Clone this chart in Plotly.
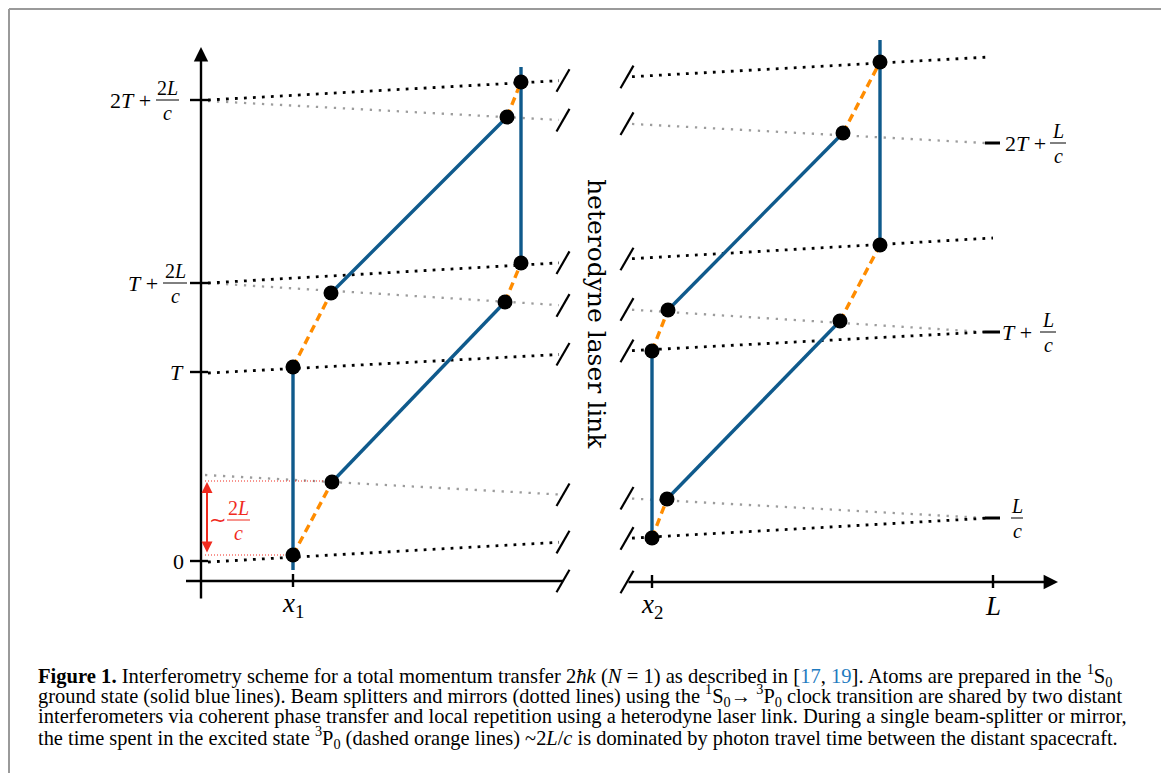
import plotly.graph_objects as go

# ---------------- data (diagram units: x = position, t = time) ----------------
# atom trajectories, left interferometer (at x1)
blue_left_x = [92, 92, None, 131, 304, None, 130, 306, None, 320, 320]
blue_left_t = [-9, 194, None, 79, 259, None, 268, 444, None, 299, 494]
orange_left_x = [92, 131, None, 92, 130, None, 304, 320, None, 306, 320]
orange_left_t = [6, 79, None, 194, 268, None, 259, 298, None, 444, 479]
dots_left_x = [92, 92, 131, 130, 304, 320, 306, 320]
dots_left_t = [6, 194, 79, 268, 259, 298, 444, 479]

# atom trajectories, right interferometer (at x2)
blue_right_x = [451, 451, None, 466, 639, None, 467, 642, None, 679, 679]
blue_right_t = [23, 210, None, 62, 240, None, 251, 428, None, 316, 521]
orange_right_x = [451, 466, None, 451, 467, None, 639, 679, None, 642, 679]
orange_right_t = [23, 62, None, 210, 251, None, 240, 316, None, 428, 499]
dots_right_x = [451, 451, 466, 467, 639, 642, 679, 679]
dots_right_t = [23, 210, 62, 251, 240, 428, 316, 499]

# light pulses (start x, start t, end x, end t)
black_x0 = [7, 7, 7, 7]
black_t0 = [-1, 188, 278, 461]
black_x1 = [789, 784, 792, 789]
black_t1 = [43, 229, 323, 504]
gray_x0 = [4, 7, 7]
gray_t0 = [86, 278, 460]
gray_x1 = [784, 784, 784]
gray_t1 = [43, 229, 418]

# axis ticks
left_tick_t = [0, 189, 278, 461]
left_tick_prefix = ["0", "<i>T</i>", "<i>T</i> +", "2<i>T</i> +"]
left_tick_num = [None, None, "2<i>L</i>", "2<i>L</i>"]
left_tick_den = [None, None, "<i>c</i>", "<i>c</i>"]

right_tick_t = [43, 229, 418]
right_tick_prefix = ["", "<i>T</i> +", "2<i>T</i> +"]
right_tick_num = ["<i>L</i>", "<i>L</i>", "<i>L</i>"]
right_tick_den = ["<i>c</i>", "<i>c</i>", "<i>c</i>"]

x_tick_vals = [92, 451, 792]
x_tick_labels = ["<i>x</i><sub>1</sub>", "<i>x</i><sub>2</sub>", "<i>L</i>"]

break_left_x = 362
break_right_x = 426
axis_t_left = -20
axis_t_right = -21

caption_lines = [
    "<b>Figure 1.</b> Interferometry scheme for a total momentum transfer 2<i>ħk</i> (<i>N</i> = 1) as described in "
    "[<span style='color:#1f7bbf'>17</span>, <span style='color:#1f7bbf'>19</span>]. Atoms are prepared in the "
    "<sup>1</sup>S<sub>0</sub>",
    "ground state (solid blue lines). Beam splitters and mirrors (dotted lines) using the <sup>1</sup>S<sub>0</sub>"
    "→ <sup>3</sup>P<sub>0</sub> clock transition are shared by two distant",
    "interferometers via coherent phase transfer and local repetition using a heterodyne laser link. During a single "
    "beam-splitter or mirror,",
    "the time spent in the excited state <sup>3</sup>P<sub>0</sub> (dashed orange lines) ~2<i>L</i>/<i>c</i> is "
    "dominated by photon travel time between the distant spacecraft.",
]
caption_sizes = [20.6, 20.4, 20.5, 20.4]

# ---------------- styles / geometry ----------------
BLUE = "#0f5a8c"
ORANGE = "#ff8c00"
GRAY = "#9c9c9c"
RED = "#f02a1e"
MATH_FONT = "Liberation Serif"
W, H = 1169, 773
OFF = 8  # the page body offsets the plot by 8 px
XR = [-201 + OFF, -201 + OFF + W]
TR = [561 - OFF - H, 561 - OFF]


def px(x):  # page pixel -> paper fraction (x)
    return (x - OFF) / W


def py(y):  # page pixel -> paper fraction (y)
    return 1 - (y - OFF) / H


fig = go.Figure()
shapes = []
annotations = []


def seg(xs, ts, color, width, dash="solid"):
    fig.add_trace(go.Scatter(x=xs, y=ts, mode="lines", hoverinfo="skip",
                             line=dict(color=color, width=width, dash=dash),
                             showlegend=False))


def interp(x0, t0, x1, t1, x):
    return t0 + (t1 - t0) * (x - x0) / (x1 - x0)


def text(x, t, s, size=22, color="black", xanchor="center", font=MATH_FONT, angle=0):
    annotations.append(dict(x=x, y=t, xref="x", yref="y", text=s, showarrow=False,
                            xanchor=xanchor, yanchor="middle", textangle=angle,
                            font=dict(family=font, size=size, color=color)))


def frac(xc, t, num, den, hw, size=20, color="black"):
    shapes.append(dict(type="line", xref="x", yref="y", x0=xc - hw, x1=xc + hw, y0=t, y1=t,
                       line=dict(color=color, width=1)))
    text(xc, t + 12, num, size=size, color=color)
    text(xc, t - 13, den, size=size, color=color)


def slash(x, t):
    seg([x - 6.5, x + 6.5], [t - 11.3, t + 11.3], "black", 2.2)


# light pulses, split at the break
gap_l, gap_r = break_left_x - 4, break_right_x + 5
for x0, t0, x1, t1 in zip(gray_x0, gray_t0, gray_x1, gray_t1):
    seg([x0, gap_l, None, gap_r, x1],
        [t0, interp(x0, t0, x1, t1, gap_l), None, interp(x0, t0, x1, t1, gap_r), t1],
        GRAY, 2.3, "2.3px,6.7px")
for x0, t0, x1, t1 in zip(black_x0, black_t0, black_x1, black_t1):
    seg([x0, gap_l, None, gap_r, x1],
        [t0, interp(x0, t0, x1, t1, gap_l), None, interp(x0, t0, x1, t1, gap_r), t1],
        "black", 2.8, "2.8px,6.2px")

# break slashes
for x0, t0, x1, t1 in list(zip(black_x0, black_t0, black_x1, black_t1)) + list(zip(gray_x0, gray_t0, gray_x1, gray_t1)):
    slash(break_left_x, interp(x0, t0, x1, t1, break_left_x))
    slash(break_right_x, interp(x0, t0, x1, t1, break_right_x))
slash(break_left_x, axis_t_left)
slash(break_right_x, axis_t_right)

# red 2L/c marker
seg([4, 128], [80, 80], RED, 1, "1px,2px")
seg([4, 92], [6, 6], RED, 1, "1px,2px")

# atom paths
seg(blue_left_x, blue_left_t, BLUE, 3.4)
seg(blue_right_x, blue_right_t, BLUE, 3.4)
seg(orange_left_x, orange_left_t, ORANGE, 3.4, "8px,5px")
seg(orange_right_x, orange_right_t, ORANGE, 3.4, "8px,5px")
fig.add_trace(go.Scatter(x=dots_left_x + dots_right_x, y=dots_left_t + dots_right_t, mode="markers",
                         marker=dict(color="black", size=15), hoverinfo="skip", showlegend=False))

# axes
seg([-15, break_left_x], [axis_t_left, axis_t_left], "black", 2.5)
annotations.append(dict(x=0, y=514, ax=0, ay=-39, xref="x", yref="y", axref="x", ayref="y",
                        text="", showarrow=True, arrowhead=2, arrowsize=1.2, arrowwidth=2.4,
                        arrowcolor="black", standoff=0))
annotations.append(dict(x=857, y=axis_t_right, ax=break_right_x, ay=axis_t_right, xref="x", yref="y",
                        axref="x", ayref="y", text="", showarrow=True, arrowhead=2, arrowsize=1.2,
                        arrowwidth=2.4, arrowcolor="black", standoff=0))
annotations.append(dict(x=6, y=79, ax=6, ay=7, xref="x", yref="y", axref="x", ayref="y",
                        text="", showarrow=True, arrowhead=2, arrowside="end+start", arrowsize=1.1,
                        arrowwidth=2, arrowcolor=RED, standoff=0))

# left ticks & labels
for t, pre, num, den in zip(left_tick_t, left_tick_prefix, left_tick_num, left_tick_den):
    seg([-11, 7], [t, t], "black", 2.4)
    if num is None:
        text(-15, t, pre, xanchor="right")
    else:
        hw = 11.5 if pre.startswith("2") else 12
        xc = -33.5 if pre.startswith("2") else -26
        frac(xc, t, num, den, hw)
        text(xc - hw - 3, t, pre, xanchor="right")

# right ticks & labels
for t, pre, num, den in zip(right_tick_t, right_tick_prefix, right_tick_num, right_tick_den):
    seg([784, 799], [t, t], "black", 3)
    if pre == "":
        frac(816, t, num, den, 6)
    else:
        x0 = 802 if pre.startswith("2") else 799
        text(x0, t, pre, xanchor="left")
        xc = 857 if pre.startswith("2") else 847
        frac(xc, t, num, den, 8)

# x ticks & labels
for xv, lab in zip(x_tick_vals, x_tick_labels):
    tt = axis_t_left if xv < break_left_x else axis_t_right
    seg([xv, xv], [tt + 7, tt - 6], "black", 2.4)
    text(xv, tt - 24, lab, size=27)

# red label
text(17, 41, "∼", size=21, color=RED)
frac(37.5, 41, "2<i>L</i>", "<i>c</i>", 11.5, color=RED)

# heterodyne laser link
text(396, 247, "heterodyne laser link", size=25, angle=90, font="DejaVu Serif")

# caption
for i, (line, fs) in enumerate(zip(caption_lines, caption_sizes)):
    annotations.append(dict(x=px(36), y=py(675 + 20.7 * i), xref="paper", yref="paper",
                            text=line, showarrow=False, xanchor="left", yanchor="middle",
                            font=dict(family="Liberation Serif", size=fs, color="black")))

# frame
frame = dict(color="#9a9a9a", width=2)
top = py(9)
shapes.append(dict(type="line", xref="paper", yref="paper", x0=px(9), x1=px(1166), y0=top, y1=top, line=frame))
shapes.append(dict(type="line", xref="paper", yref="paper", x0=px(9), x1=px(9), y0=0, y1=top, line=frame))
shapes.append(dict(type="line", xref="paper", yref="paper", x0=px(1166), x1=px(1166), y0=0, y1=top, line=frame))

fig.update_layout(
    width=W, height=H, margin=dict(l=0, r=0, t=0, b=0),
    paper_bgcolor="white", plot_bgcolor="white",
    xaxis=dict(range=XR, visible=False, fixedrange=True),
    yaxis=dict(range=TR, visible=False, fixedrange=True),
    shapes=shapes, annotations=annotations, showlegend=False,
)
fig.write_html("out.html")
